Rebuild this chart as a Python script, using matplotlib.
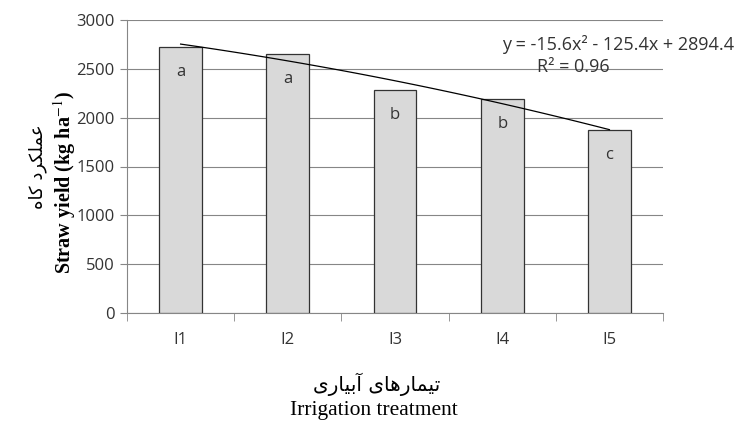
import numpy as np
import matplotlib.pyplot as plt

treatments = ["I1", "I2", "I3", "I4", "I5"]
straw_yield = [2720, 2650, 2280, 2190, 1870]
letters = ["a", "a", "b", "b", "c"]
# trend line coefficients as printed on the chart
trend_coef = [-15.6, -125.4, 2894.4]

# persian text written in presentation forms, visual order
fa_ylabel = "\uFEE9\uFE8E\uFB90 \uFEA9\uFEAE\uFB91\uFEE0\uFEE4\uFECB"
fa_xlabel = "\uFBFC\uFEAD\uFE8E\uFBFF\uFE91\uFE81 \uFBFC\uFE8E\uFEEB\uFEAD\uFE8E\uFEE4\uFBFF\uFE97"

tick_font = ["Open Sans", "DejaVu Sans"]
serif_font = ["Liberation Serif", "DejaVu Serif"]
plt.rcParams["mathtext.fontset"] = "stix"

fig = plt.figure(figsize=(7.53, 4.21), dpi=100)
ax = fig.add_axes([127/753, 1-313/421, (663-127)/753, (313-20)/421])

x = np.arange(len(treatments))
ax.bar(x, straw_yield, width=0.4, color="#d9d9d9", edgecolor="#333333", linewidth=0.9, zorder=3)

for xi, yi, lt in zip(x, straw_yield, letters):
    ax.text(xi, yi - 250, lt, ha="center", va="center", fontsize=12, family=tick_font, color="#333333", zorder=4)

xs = np.linspace(1, 5, 100)
ax.plot(xs - 1, np.polyval(trend_coef, xs), color="black", linewidth=0.9, zorder=5)

ax.set_xlim(-0.5, 4.5)
ax.set_ylim(0, 3000)
ax.set_yticks(range(0, 3001, 500))
ax.set_xticks(x)
ax.set_xticklabels(treatments)
ax.set_xticks(np.arange(-0.5, 4.6, 1), minor=True)
ax.tick_params(axis="x", which="major", length=0, pad=14)
ax.tick_params(axis="x", which="minor", length=6, direction="out", color="#868686")
ax.tick_params(axis="y", length=5, direction="out", color="#868686", pad=4)
for lab in ax.get_xticklabels() + ax.get_yticklabels():
    lab.set_family(tick_font)
    lab.set_fontsize(12)
    lab.set_color("#333333")

ax.grid(axis="y", color="#868686", linewidth=0.8, zorder=0)
for side in ["top", "right"]:
    ax.spines[side].set_visible(False)
ax.spines["left"].set_color("#868686")
ax.spines["bottom"].set_color("#868686")

fig.text(618/753, 1-44/421, "y = -15.6x² - 125.4x + 2894.4", ha="center", va="center",
         fontsize=13, family=tick_font, color="#333333")
fig.text(573/753, 1-67/421, "R² = 0.96", ha="center", va="center",
         fontsize=13, family=tick_font, color="#333333")

fig.text(38/753, 1-167/421, fa_ylabel, rotation=90, ha="center", va="center",
         fontsize=13, family=["DejaVu Sans"])
fig.text(65/753, 1-183/421, "Straw yield (kg ha$^{-1}$)", rotation=90, ha="center", va="center",
         fontsize=14.5, fontweight="bold", family=serif_font)
fig.text(377/753, 1-384/421, fa_xlabel, ha="center", va="center", fontsize=14.5, family=["DejaVu Sans"])
fig.text(374/753, 1-410/421, "Irrigation treatment", ha="center", va="center", fontsize=15.5, family=serif_font)

fig.savefig("out.png", dpi=100)
